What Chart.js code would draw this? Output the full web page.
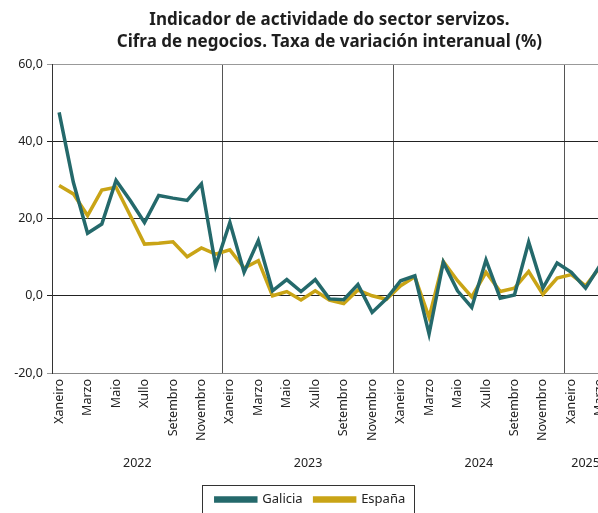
<!DOCTYPE html>
<html>
<head>
<meta charset="utf-8">
<script src="https://cdn.jsdelivr.net/npm/chart.js@4.4.1/dist/chart.umd.min.js"></script>
<style>
  html, body { margin: 0; padding: 0; background: #fff; overflow: hidden; }
  canvas { display: block; }
</style>
</head>
<body>
<canvas id="servizosChart" width="621" height="516"></canvas>
<script>
// month names (Galician) and years shown on the second axis row
const monthNames = ['Xaneiro', 'Febreiro', 'Marzo', 'Abril', 'Maio', 'Xuño',
  'Xullo', 'Agosto', 'Setembro', 'Outubro', 'Novembro', 'Decembro']
const yearLabels = ['2022', '2023', '2024', '2025']
const yearCenters = [6, 18, 30, 37.5]

// Xaneiro 2022 .. Marzo 2025
const galicia = [47.5, 29.4, 16.2, 18.6, 29.9, 24.7, 19.0, 26.0, 25.3, 24.7, 29.0, 7.8,
  19.0, 6.1, 14.3, 1.3, 4.2, 1.1, 4.2, -0.8, -1.0, 2.9, -4.3, -0.8,
  3.9, 5.2, -9.9, 8.7, 1.3, -3.0, 9.3, -0.6, 0.2, 13.9, 2.0, 8.5,
  6.1, 2.0, 7.8]
const espana = [28.6, 26.4, 20.8, 27.4, 28.1, 20.8, 13.4, 13.6, 14.0, 10.1, 12.4, 10.8,
  11.9, 7.2, 9.1, 0.0, 1.1, -1.1, 1.3, -1.1, -2.0, 1.5, 0.0, -0.9,
  2.6, 4.9, -5.6, 8.9, 3.9, -0.3, 6.1, 1.1, 2.0, 6.3, 0.4, 4.6,
  5.5, 2.6, 7.4]

const categories = []
for (let i = 0; i < galicia.length; i++) {
  categories.push(monthNames[i % 12])
}

const FONT = 'Noto Sans'
const TEAL = '#24696b'
const GOLD = '#c9a416'

// draws the thin frame around the legend, like the original
const legendFrame = {
  id: 'legendFrame',
  afterDraw(chart) {
    const lg = chart.legend
    if (!lg || !lg.legendHitBoxes.length) return
    const hb = lg.legendHitBoxes
    const last = hb[hb.length - 1]
    const ctx = chart.ctx
    ctx.save()
    ctx.strokeStyle = '#333'
    ctx.lineWidth = 1
    const l = Math.round(hb[0].left - 14) + 0.5
    const r = Math.round(last.left + last.width + 9) + 0.5
    const t = Math.round(hb[0].top - 8) + 0.5
    ctx.strokeRect(l, t, r - l, 40)
    ctx.restore()
  }
}

new Chart(document.getElementById('servizosChart'), {
  type: 'line',
  data: {
    labels: categories,
    datasets: [
      { label: 'Galicia', data: galicia, borderColor: TEAL, backgroundColor: TEAL,
        borderWidth: 3.5, pointRadius: 0, tension: 0, fill: false },
      { label: 'España', data: espana, borderColor: GOLD, backgroundColor: GOLD,
        borderWidth: 3.5, pointRadius: 0, tension: 0, fill: false }
    ]
  },
  options: {
    responsive: false,
    animation: false,
    layout: { padding: 0 },
    plugins: {
      title: {
        display: true,
        fullSize: false,
        text: ['Indicador de actividade do sector servizos.',
          'Cifra de negocios. Taxa de variación interanual (%)'],
        color: '#1e1e1e',
        font: { family: FONT, size: 17, weight: 'bold', lineHeight: 1.3 },
        padding: { top: 9, bottom: 11 }
      },
      legend: {
        position: 'bottom',
        labels: {
          boxWidth: 40,
          boxHeight: 3,
          padding: 12,
          color: '#222',
          font: { family: FONT, size: 13 }
        }
      },
      tooltip: { enabled: false }
    },
    scales: {
      x: {
        type: 'category',
        offset: true,
        grid: {
          offset: true,
          drawTicks: false,
          color: c => (c.index > 0 && c.index % 12 === 0) ? '#555' : 'rgba(0,0,0,0)'
        },
        border: { color: '#888' },
        ticks: {
          autoSkip: false,
          maxRotation: 90,
          minRotation: 90,
          padding: 6,
          color: '#222',
          font: { family: FONT, size: 12.5 },
          callback: function (v, i) { return i % 2 === 0 ? this.getLabelForValue(v) : '' }
        },
        afterFit: s => { s.height = 74 }
      },
      xYear: {
        type: 'linear',
        position: 'bottom',
        weight: 1,
        min: 0,
        max: galicia.length,
        grid: { display: false, drawTicks: false },
        border: { display: false },
        afterBuildTicks: s => { s.ticks = yearCenters.map(v => ({ value: v })) },
        ticks: {
          padding: 9,
          color: '#222',
          font: { family: FONT, size: 12.5 },
          callback: (v, i) => yearLabels[i]
        },
        afterFit: s => { s.height = 34 }
      },
      y: {
        min: -20,
        max: 60,
        ticks: {
          stepSize: 20,
          padding: 4,
          color: '#222',
          font: { family: FONT, size: 12.5 },
          callback: v => v.toFixed(1).replace('.', ',')
        },
        grid: {
          tickLength: 5,
          color: c => (c.tick && (c.tick.value === 60 || c.tick.value === -20)) ? '#999' : '#222'
        },
        border: { color: '#333' },
        afterFit: s => { s.width = 52 }
      }
    }
  },
  plugins: [legendFrame]
})
</script>
</body>
</html>
